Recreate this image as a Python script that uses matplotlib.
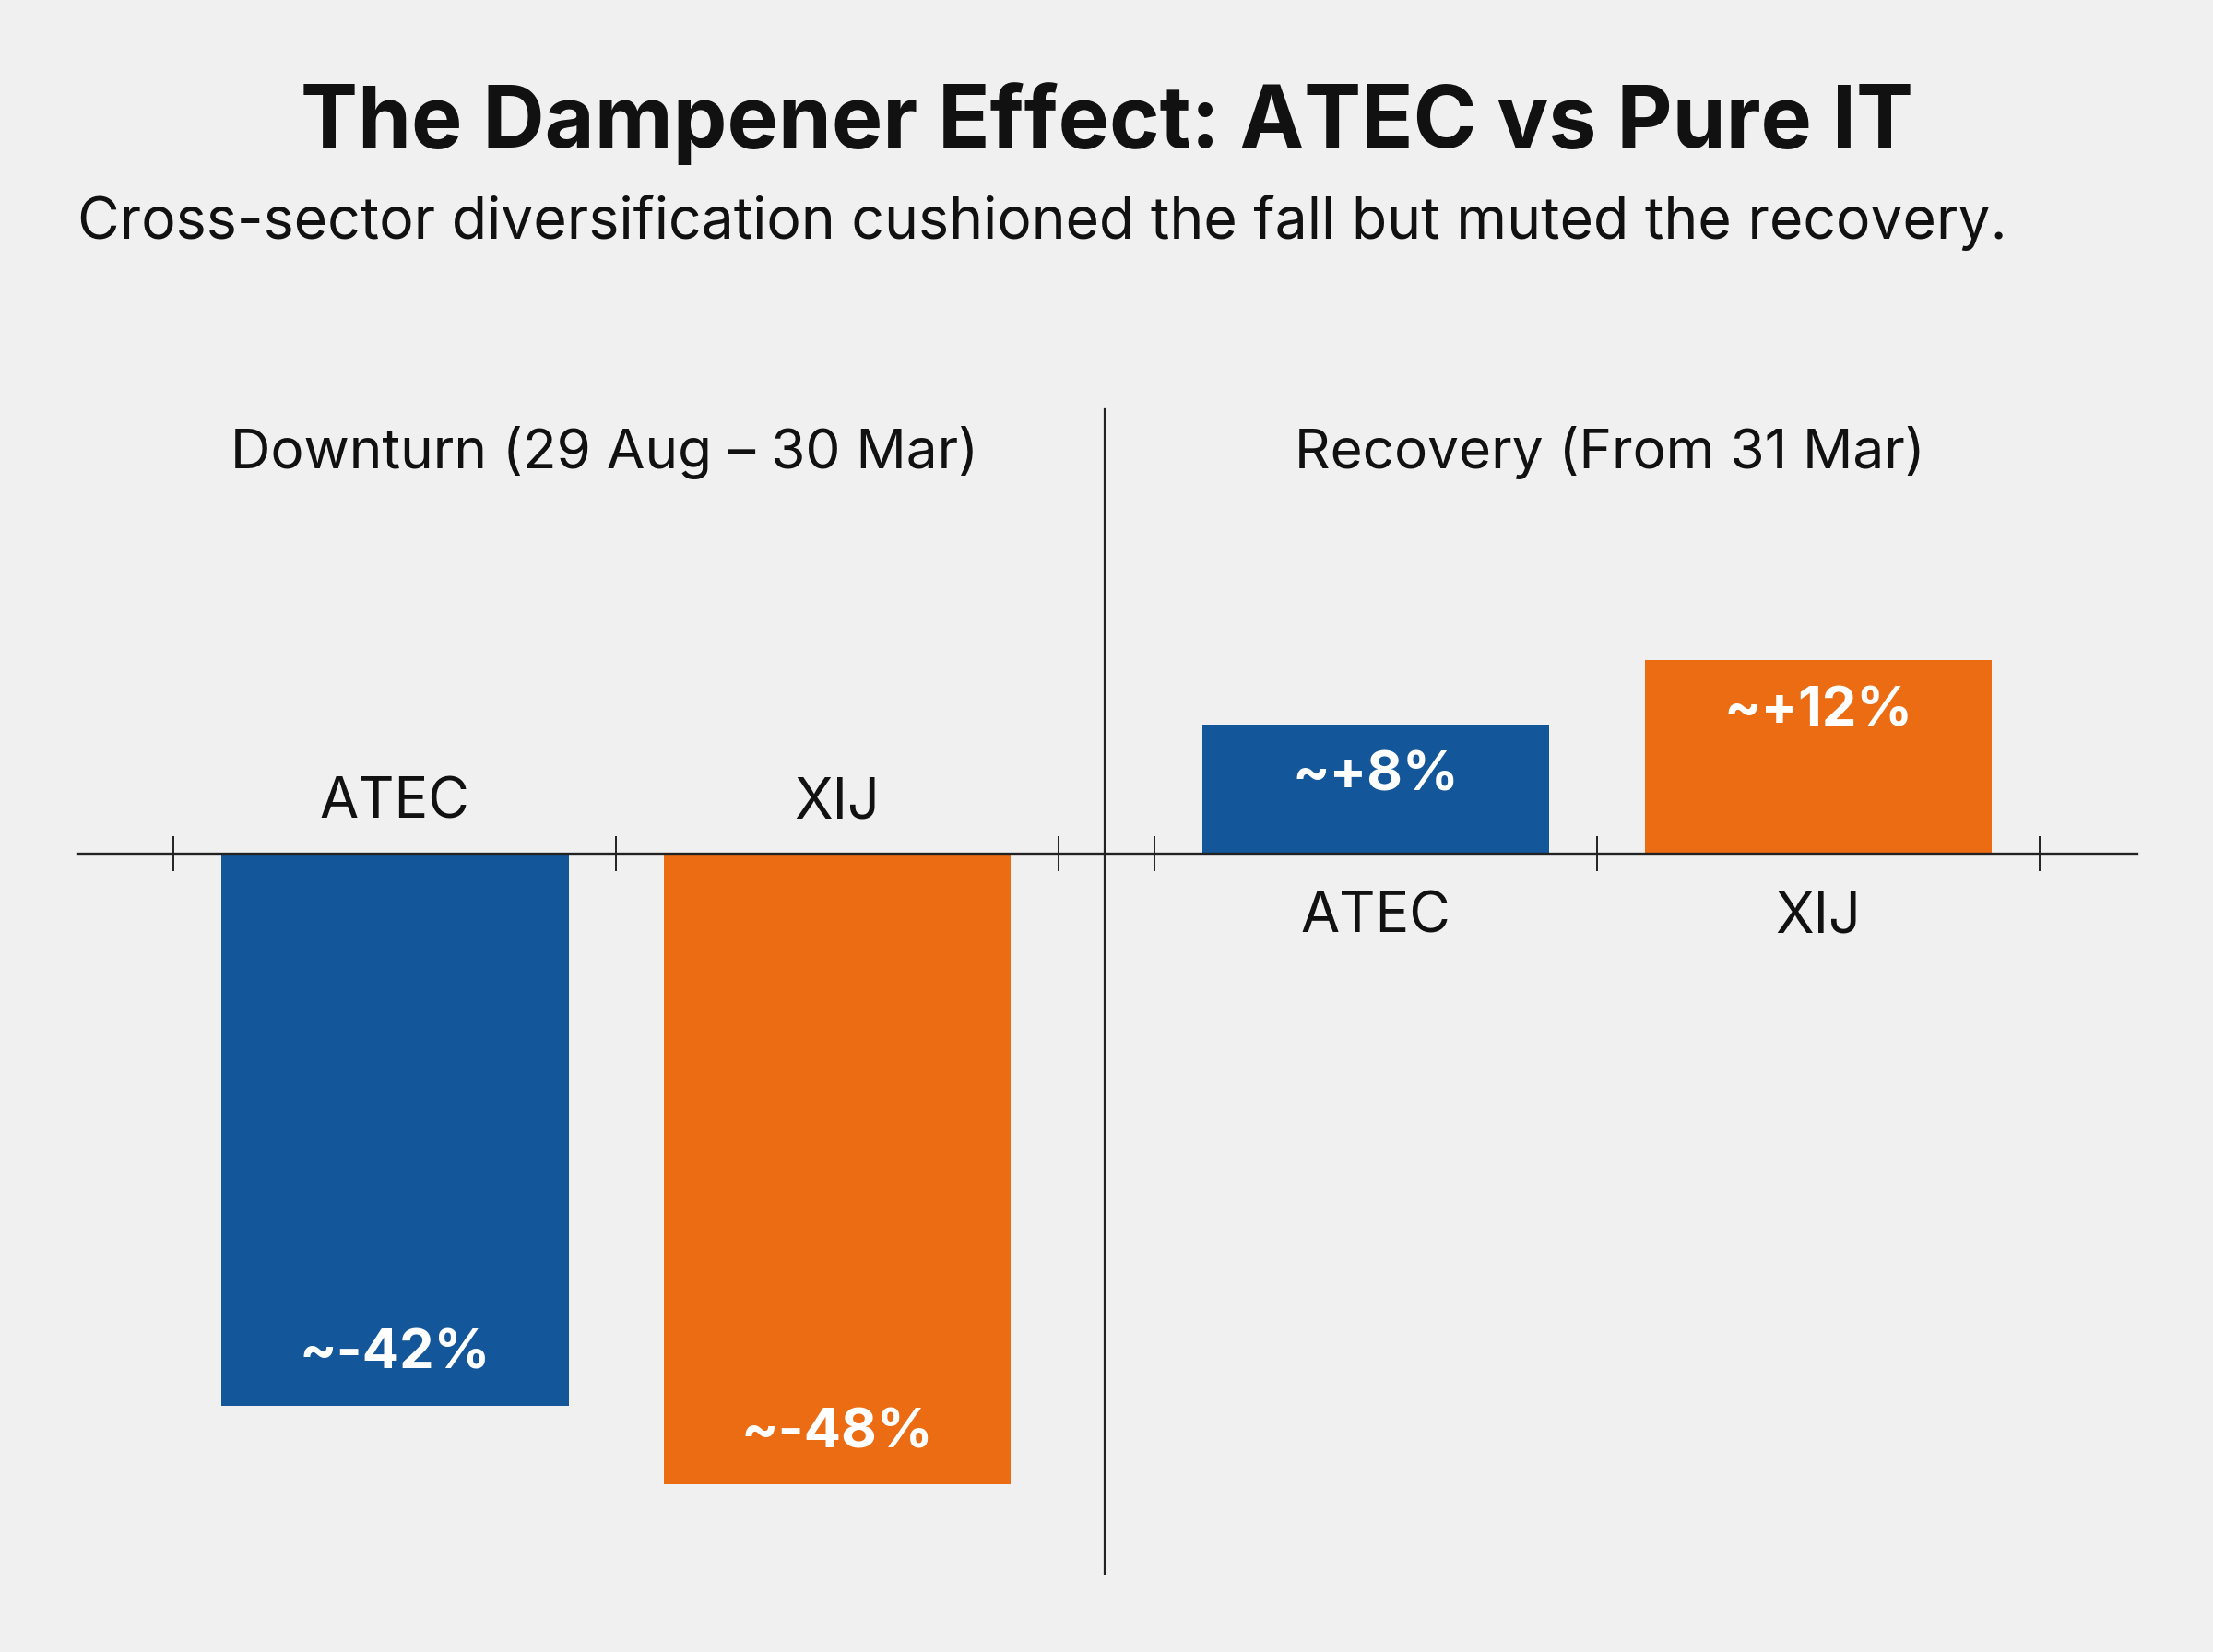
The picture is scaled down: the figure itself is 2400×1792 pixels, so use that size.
import matplotlib
matplotlib.use("Agg")
import matplotlib.pyplot as plt

# Dados
tickers = ["ATEC", "XIJ"]
downturn = [-42, -48]
recovery = [8, 12]
downturn_labels = ["~-42%", "~-48%"]
recovery_labels = ["~+8%", "~+12%"]
colors = ["#13569A", "#EC6C13"]

title = "The Dampener Effect: ATEC vs Pure IT"
subtitle = "Cross-sector diversification cushioned the fall but muted the recovery."
panel_titles = ["Downturn (29 Aug \u2013 30 Mar)", "Recovery (From 31 Mar)"]

plt.rcParams["font.family"] = ["Inter", "DejaVu Sans"]
bg = "#F0F0F0"
ink = "#111111"

W, H = 2400, 1792
fig = plt.figure(figsize=(12, 8.96), dpi=200, facecolor=bg)

top_px, bot_px = 444, 1707
ax_l = fig.add_axes([84 / W, 1 - bot_px / H, 1114 / W, (bot_px - top_px) / H])
ax_r = fig.add_axes([1198 / W, 1 - bot_px / H, 1119 / W, (bot_px - top_px) / H])

x = list(range(len(tickers)))
bar_w = 0.785

# Painel esquerdo (queda)
ax_l.set_facecolor("none")
ax_l.bar(x, downturn, width=bar_w, color=colors, zorder=1)
ax_l.set_xlim(-0.717, 1.604)
ax_l.set_ylim(-54.8, 33.8)
for s in ["bottom", "left"]:
    ax_l.spines[s].set_visible(False)
ax_l.spines["top"].set_position(("data", 0))
ax_l.spines["top"].set_linewidth(1.2)
ax_l.spines["top"].set_color("#222222")
ax_l.spines["top"].set_zorder(3)
ax_l.spines["right"].set_linewidth(0.8)
ax_l.spines["right"].set_color("#222222")
ax_l.xaxis.set_ticks_position("top")
ax_l.set_yticks([])
ax_l.set_xticks([-0.5, 0.5, 1.5], ["", "", ""])
ax_l.set_xticks(x, tickers, minor=True)
ax_l.tick_params(axis="x", which="major", direction="inout", length=14, width=0.7, color="#222222")
ax_l.tick_params(axis="x", which="minor", length=0, pad=9, labelsize=22, labelcolor=ink,
                 top=True, labeltop=True, bottom=False, labelbottom=False)
for xi, v, lab in zip(x, downturn, downturn_labels):
    ax_l.annotate(lab, (xi, v), xytext=(0, 20), textcoords="offset points",
                  ha="center", va="center", color="white", fontsize=21.5, fontweight="bold")
ax_l.text(0.513, 0.963, panel_titles[0], transform=ax_l.transAxes,
          ha="center", va="center", fontsize=21.7, color=ink)

# Painel direito (recuperação)
ax_r.set_facecolor("none")
ax_r.bar(x, recovery, width=bar_w, color=colors, zorder=1)
ax_r.set_xlim(-0.6125, 1.719)
ax_r.set_ylim(-44.6, 27.54)
for s in ["top", "left", "right"]:
    ax_r.spines[s].set_visible(False)
ax_r.spines["bottom"].set_position(("data", 0))
ax_r.spines["bottom"].set_linewidth(1.2)
ax_r.spines["bottom"].set_color("#222222")
ax_r.spines["bottom"].set_zorder(3)
ax_r.set_yticks([])
ax_r.set_xticks([-0.5, 0.5, 1.5], ["", "", ""])
ax_r.set_xticks(x, tickers, minor=True)
ax_r.tick_params(axis="x", which="major", direction="inout", length=14, width=0.7, color="#222222")
ax_r.tick_params(axis="x", which="minor", length=0, pad=14.5, labelsize=22, labelcolor=ink)
for xi, v, lab in zip(x, recovery, recovery_labels):
    ax_r.annotate(lab, (xi, v), xytext=(0, -20), textcoords="offset points",
                  ha="center", va="center", color="white", fontsize=21.5, fontweight="bold")
ax_r.text(0.49, 0.963, panel_titles[1], transform=ax_r.transAxes,
          ha="center", va="center", fontsize=21.7, color=ink)

fig.text(0.5, 1 - 134 / H, title, ha="center", va="center",
         fontsize=33.5, fontweight="bold", color=ink)
fig.text(84 / W, 1 - 241 / H, subtitle, ha="left", va="center",
         fontsize=22.5, color=ink)

fig.savefig("out.png", dpi=200, facecolor=bg)
